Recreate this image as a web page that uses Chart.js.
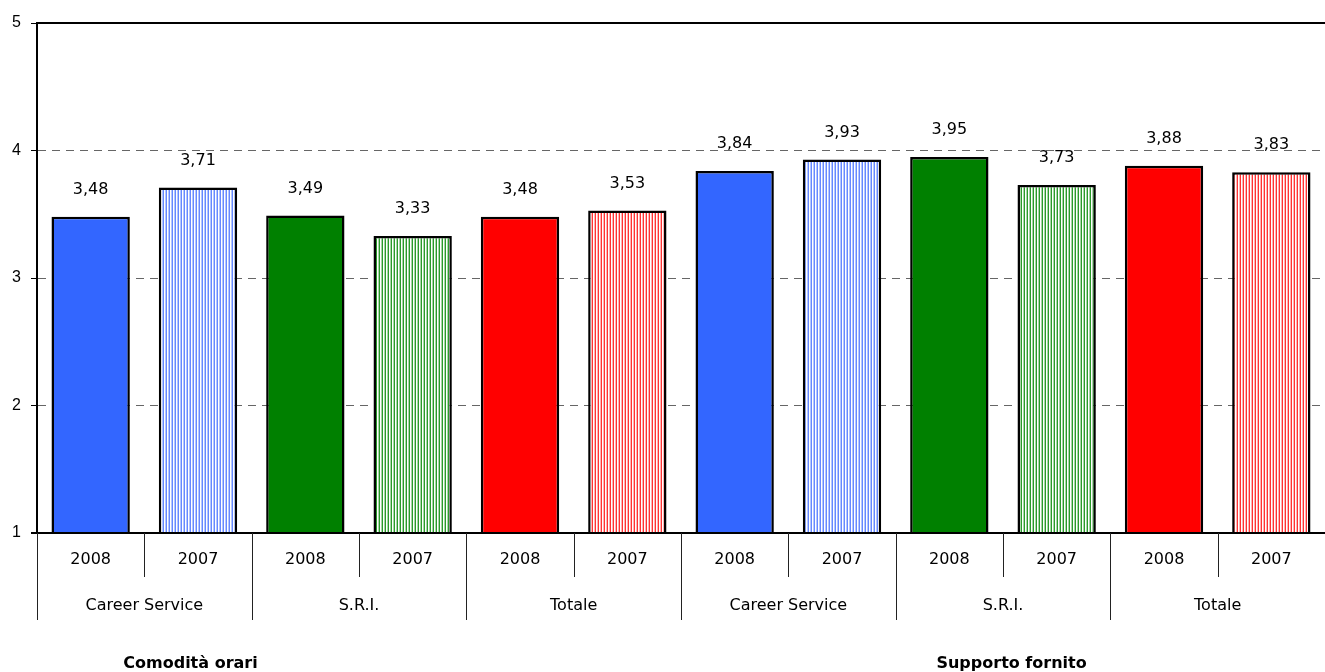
<!DOCTYPE html>
<html>
<head>
<meta charset="utf-8">
<script src="https://cdn.jsdelivr.net/npm/chart.js@4"></script>
<style>
  html, body { margin: 0; padding: 0; background: #fff; }
  #wrap { width: 1325px; height: 672px; }
</style>
</head>
<body>
<div id="wrap"><canvas id="chart" width="1325" height="672"></canvas></div>
<script>
// data
const years = ['2008', '2007', '2008', '2007', '2008', '2007', '2008', '2007', '2008', '2007', '2008', '2007'];
const groups = ['Career Service', 'S.R.I.', 'Totale', 'Career Service', 'S.R.I.', 'Totale'];
const sections = ['Comodità orari', 'Supporto fornito'];
const values = [3.48, 3.71, 3.49, 3.33, 3.48, 3.53, 3.84, 3.93, 3.95, 3.73, 3.88, 3.83];
const yTicks = [1, 2, 3, 4, 5];

const FONT = "'Comic Sans MS', 'DejaVu Sans', sans-serif";
const BLUE = '#3366ff', GREEN = '#008000', RED = '#ff0000';

// vertical hatch fill for the 2007 bars
function stripes(color, tint) {
    const c = document.createElement('canvas');
    c.width = 3; c.height = 3;
    const g = c.getContext('2d');
    g.fillStyle = '#ffffff'; g.fillRect(0, 0, 3, 3);
    g.fillStyle = tint; g.fillRect(0, 0, 1, 3);
    g.fillStyle = color; g.fillRect(1, 0, 1, 3);
    return g.createPattern(c, 'repeat');
}

const fills = [
    BLUE, stripes('#6688ff', '#b3c6ff'),
    GREEN, stripes('#2a9a2a', '#a6d6a6'),
    RED, stripes('#ff3333', '#ffb3b3'),
    BLUE, stripes('#6688ff', '#b3c6ff'),
    GREEN, stripes('#2a9a2a', '#a6d6a6'),
    RED, stripes('#ff3333', '#ffb3b3')
];

// axes frame, multi-level labels, value labels
const decorPlugin = {
    id: 'decor',
    afterDatasetsDraw(chart) {
        const ctx = chart.ctx;
        const area = chart.chartArea;
        const x = chart.scales.x;
        const meta = chart.getDatasetMeta(0);
        const step = (area.right - area.left) / years.length;

        ctx.save();
        // top frame line and bottom axis
        ctx.strokeStyle = '#000';
        ctx.lineWidth = 2;
        ctx.beginPath();
        ctx.moveTo(area.left, area.top);
        ctx.lineTo(area.right, area.top);
        ctx.moveTo(area.left - 6, area.bottom);
        ctx.lineTo(area.right, area.bottom);
        ctx.stroke();

        // value labels
        ctx.fillStyle = '#000';
        ctx.font = '16px ' + FONT;
        ctx.textAlign = 'center';
        ctx.textBaseline = 'middle';
        meta.data.forEach((bar, i) => {
            ctx.fillText(values[i].toFixed(2).replace('.', ','), bar.x, bar.y - 27);
        });

        // separators
        ctx.lineWidth = 1;
        ctx.strokeStyle = '#222';
        ctx.beginPath();
        for (let i = 0; i < years.length; i++) {
            const bx = Math.round(area.left + step * i) + 0.5;
            ctx.moveTo(bx, area.bottom);
            ctx.lineTo(bx, area.bottom + (i % 2 === 0 ? 87 : 44));
        }
        ctx.stroke();

        // year row
        years.forEach((y, i) => {
            ctx.fillText(y, x.getPixelForValue(i), area.bottom + 27);
        });
        // group row
        groups.forEach((g, j) => {
            const cx = (x.getPixelForValue(j * 2) + x.getPixelForValue(j * 2 + 1)) / 2;
            ctx.fillText(g, cx, area.bottom + 73);
        });
        // section titles
        ctx.font = 'bold 16px ' + FONT;
        ctx.fillText(sections[0], area.left + step * 1.43, area.bottom + 131);
        ctx.fillText(sections[1], area.left + step * 9.08, area.bottom + 131);
        ctx.restore();
    }
};

new Chart(document.getElementById('chart').getContext('2d'), {
    type: 'bar',
    data: {
        labels: years,
        datasets: [{
            data: values,
            backgroundColor: fills,
            borderColor: '#000',
            borderWidth: 2.5,
            borderSkipped: false,
            categoryPercentage: 1,
            barPercentage: 0.73
        }]
    },
    options: {
        responsive: false,
        animation: false,
        layout: { padding: { top: 23, right: 0, bottom: 139, left: 0 } },
        plugins: {
            legend: { display: false },
            tooltip: { enabled: false }
        },
        scales: {
            x: { display: false },
            y: {
                min: 1,
                max: 5,
                afterBuildTicks: s => { s.ticks = yTicks.map(v => ({ value: v })); },
                afterFit: s => { s.width = 37; },
                ticks: {
                    color: '#000',
                    font: { family: "'Liberation Sans', Arial, sans-serif", size: 16 },
                    padding: 10
                },
                grid: {
                    color: c => (c.tick && c.tick.value > 1 && c.tick.value < 5) ? '#666' : 'rgba(0,0,0,0)',
                    lineWidth: 1,
                    tickColor: '#000',
                    tickLength: 6,
                    tickBorderDash: []
                },
                border: { display: true, color: '#000', width: 2, dash: [8, 6] }
            }
        }
    },
    plugins: [decorPlugin]
});
</script>
</body>
</html>
